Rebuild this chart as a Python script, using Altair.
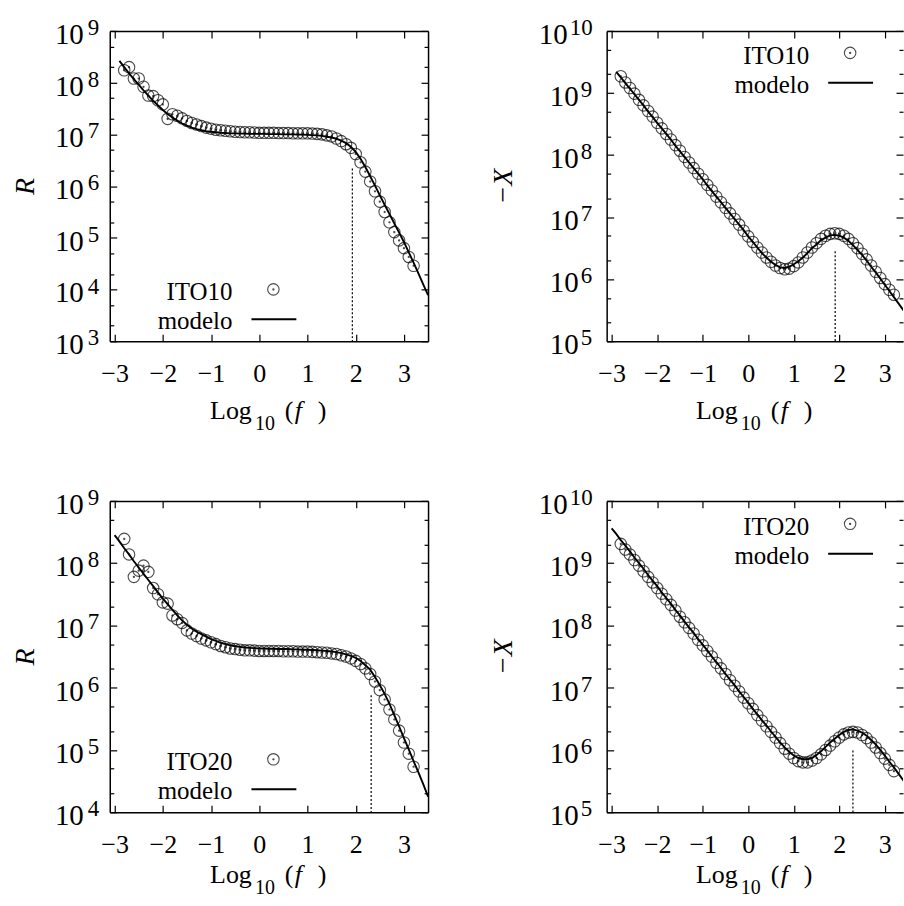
import altair as alt
import pandas as pd

# ---------------------------------------------------------------------------
# Impedance spectra of ITO10 / ITO20: log10 of frequency and log10 of R, -X
# ---------------------------------------------------------------------------
logf_exp = [-2.8, -2.7, -2.6, -2.5, -2.4, -2.3, -2.2, -2.1, -2.0, -1.9,
            -1.8, -1.7, -1.6, -1.5, -1.4, -1.3, -1.2, -1.1, -1.0, -0.9,
            -0.8, -0.7, -0.6, -0.5, -0.4, -0.3, -0.2, -0.1, 0.0, 0.1,
            0.2, 0.3, 0.4, 0.5, 0.6, 0.7, 0.8, 0.9, 1.0, 1.1,
            1.2, 1.3, 1.4, 1.5, 1.6, 1.7, 1.8, 1.9, 2.0, 2.1,
            2.2, 2.3, 2.4, 2.5, 2.6, 2.7, 2.8, 2.9, 3.0, 3.1, 3.2]

logf_fit_ito10 = [-2.9, -2.8, -2.7, -2.6, -2.5, -2.4, -2.3, -2.2, -2.1, -2.0,
                  -1.9, -1.8, -1.7, -1.6, -1.5, -1.4, -1.3, -1.2, -1.1, -1.0,
                  -0.9, -0.8, -0.7, -0.6, -0.5, -0.4, -0.3, -0.2, -0.1, 0.0,
                  0.1, 0.2, 0.3, 0.4, 0.5, 0.6, 0.7, 0.8, 0.9, 1.0,
                  1.1, 1.2, 1.3, 1.4, 1.5, 1.6, 1.7, 1.8, 1.9, 2.0,
                  2.1, 2.2, 2.3, 2.4, 2.5, 2.6, 2.7, 2.8, 2.9, 3.0,
                  3.1, 3.2, 3.3, 3.4, 3.5]

logf_fit_ito20 = [-3.0, -2.9, -2.8, -2.7, -2.6, -2.5, -2.4, -2.3, -2.2, -2.1,
                  -2.0, -1.9, -1.8, -1.7, -1.6, -1.5, -1.4, -1.3, -1.2, -1.1,
                  -1.0, -0.9, -0.8, -0.7, -0.6, -0.5, -0.4, -0.3, -0.2, -0.1,
                  0.0, 0.1, 0.2, 0.3, 0.4, 0.5, 0.6, 0.7, 0.8, 0.9,
                  1.0, 1.1, 1.2, 1.3, 1.4, 1.5, 1.6, 1.7, 1.8, 1.9,
                  2.0, 2.1, 2.2, 2.3, 2.4, 2.5, 2.6, 2.7, 2.8, 2.9,
                  3.0, 3.1, 3.2, 3.3, 3.4, 3.5]

# ITO10 -- resistance R (log10)
r_ito10_exp = [8.24, 8.30, 8.08, 8.08, 7.92, 7.75, 7.74, 7.66, 7.58, 7.30,
               7.39, 7.36, 7.31, 7.26, 7.22, 7.19, 7.16, 7.13, 7.11, 7.09,
               7.08, 7.07, 7.06, 7.05, 7.045, 7.04, 7.04, 7.035, 7.03, 7.03,
               7.03, 7.03, 7.025, 7.025, 7.025, 7.02, 7.02, 7.02, 7.02, 7.015,
               7.01, 7.0, 6.98, 6.96, 6.92, 6.87, 6.81, 6.74, 6.62, 6.46,
               6.28, 6.09, 5.90, 5.70, 5.50, 5.30, 5.11, 4.95, 4.80, 4.63, 4.46]
r_ito10_fit = [8.42, 8.30, 8.18, 8.07, 7.96, 7.85, 7.75, 7.65, 7.56, 7.47,
               7.395, 7.325, 7.265, 7.21, 7.17, 7.13, 7.10, 7.08, 7.06, 7.05,
               7.04, 7.03, 7.025, 7.02, 7.02, 7.015, 7.015, 7.01, 7.01, 7.01,
               7.01, 7.005, 7.005, 7.005, 7.0, 7.0, 7.0, 6.995, 6.995, 6.99,
               6.985, 6.98, 6.97, 6.955, 6.94, 6.915, 6.88, 6.83, 6.76, 6.66,
               6.53, 6.37, 6.19, 6.01, 5.82, 5.64, 5.46, 5.28, 5.10, 4.92,
               4.72, 4.52, 4.31, 4.10, 3.89]

# ITO10 -- reactance -X (log10)
x_ito10_exp = [9.27, 9.17, 9.08, 8.99, 8.89, 8.80, 8.71, 8.62, 8.52, 8.43,
               8.34, 8.25, 8.16, 8.07, 7.97, 7.88, 7.79, 7.70, 7.61, 7.52,
               7.43, 7.33, 7.24, 7.15, 7.06, 6.97, 6.88, 6.78, 6.69, 6.60,
               6.51, 6.43, 6.35, 6.28, 6.22, 6.18, 6.16, 6.17, 6.21, 6.27,
               6.35, 6.43, 6.51, 6.58, 6.65, 6.70, 6.73, 6.74, 6.73, 6.70,
               6.65, 6.58, 6.50, 6.41, 6.32, 6.22, 6.12, 6.02, 5.92, 5.83, 5.75]
x_ito10_fit = [9.34, 9.25, 9.16, 9.07, 8.98, 8.89, 8.80, 8.70, 8.61, 8.52,
               8.43, 8.34, 8.25, 8.15, 8.06, 7.97, 7.88, 7.79, 7.70, 7.61,
               7.51, 7.42, 7.33, 7.24, 7.15, 7.06, 6.97, 6.88, 6.79, 6.69,
               6.60, 6.51, 6.42, 6.35, 6.28, 6.23, 6.19, 6.18, 6.20, 6.24,
               6.29, 6.35, 6.42, 6.50, 6.56, 6.63, 6.67, 6.705, 6.714, 6.70,
               6.67, 6.62, 6.55, 6.47, 6.39, 6.30, 6.20, 6.11, 6.01, 5.91,
               5.81, 5.71, 5.61, 5.51, 5.41]

# ITO20 -- resistance R (log10)
r_ito20_exp = [8.39, 8.14, 7.78, 7.88, 7.96, 7.86, 7.60, 7.50, 7.37, 7.35,
               7.16, 7.10, 7.04, 6.92, 6.87, 6.83, 6.79, 6.76, 6.73, 6.70,
               6.67, 6.65, 6.63, 6.62, 6.61, 6.60, 6.60, 6.595, 6.59, 6.59,
               6.59, 6.59, 6.59, 6.585, 6.585, 6.585, 6.58, 6.58, 6.58, 6.575,
               6.57, 6.565, 6.56, 6.55, 6.54, 6.52, 6.50, 6.47, 6.43, 6.38,
               6.31, 6.22, 6.10, 5.96, 5.81, 5.65, 5.49, 5.31, 5.12, 4.94, 4.73]
r_ito20_fit = [8.45, 8.35, 8.24, 8.14, 8.03, 7.93, 7.83, 7.73, 7.63, 7.53,
               7.43, 7.34, 7.25, 7.16, 7.08, 7.01, 6.95, 6.90, 6.86, 6.82,
               6.78, 6.75, 6.72, 6.70, 6.68, 6.665, 6.655, 6.645, 6.64, 6.635,
               6.63, 6.63, 6.625, 6.625, 6.62, 6.62, 6.62, 6.615, 6.615, 6.61,
               6.61, 6.605, 6.60, 6.595, 6.59, 6.58, 6.57, 6.555, 6.535, 6.51,
               6.48, 6.43, 6.36, 6.29, 6.17, 6.04, 5.90, 5.74, 5.56, 5.38,
               5.19, 5.01, 4.82, 4.64, 4.45, 4.25]

# ITO20 -- reactance -X (log10)
x_ito20_exp = [9.31, 9.22, 9.14, 9.05, 8.96, 8.87, 8.78, 8.69, 8.60, 8.51,
               8.42, 8.33, 8.24, 8.14, 8.05, 7.96, 7.87, 7.77, 7.68, 7.59,
               7.50, 7.40, 7.31, 7.22, 7.12, 7.03, 6.94, 6.84, 6.75, 6.66,
               6.56, 6.47, 6.38, 6.29, 6.20, 6.11, 6.02, 5.94, 5.87, 5.82,
               5.80, 5.80, 5.83, 5.87, 5.93, 6.00, 6.07, 6.14, 6.20, 6.25,
               6.28, 6.29, 6.28, 6.24, 6.19, 6.12, 6.04, 5.95, 5.86, 5.76, 5.66]
x_ito20_fit = [9.56, 9.47, 9.37, 9.28, 9.19, 9.09, 9.00, 8.91, 8.81, 8.72,
               8.63, 8.53, 8.44, 8.35, 8.25, 8.16, 8.06, 7.97, 7.88, 7.78,
               7.69, 7.60, 7.50, 7.41, 7.32, 7.22, 7.13, 7.04, 6.94, 6.85,
               6.76, 6.66, 6.57, 6.48, 6.39, 6.30, 6.21, 6.12, 6.04, 5.97,
               5.91, 5.87, 5.85, 5.85, 5.87, 5.92, 5.98, 6.05, 6.12, 6.18,
               6.24, 6.29, 6.32, 6.33, 6.31, 6.28, 6.23, 6.16, 6.09, 6.00,
               5.91, 5.81, 5.72, 5.62, 5.52, 5.42]

# characteristic frequency markers: log10(f) and log10 of the upper end
peak_logf = [1.93, 1.91, 2.32, 2.30]
peak_top = [6.34, 6.45, 5.88, 5.99]

x_ticks = [-3, -2, -1, 0, 1, 2, 3]

FONT = "Liberation Serif"
INK = "black"
# open circle with a centre dot
CIRCLE_DOT = ("M -1 0 A 1 1 0 1 0 1 0 A 1 1 0 1 0 -1 0 Z "
              "M -0.1 0 A 0.1 0.1 0 1 0 0.1 0 A 0.1 0.1 0 1 0 -0.1 0 Z")
MAJ, MIN = 7, 4


def ax(orient, **kw):
    base = dict(orient=orient, grid=False, labels=False, domain=False,
                ticks=False, tickSize=0, title=None)
    base.update(kw)
    return alt.Axis(**base)


def inward(orient, values, size):
    return ax(orient, values=values, ticks=True, tickSize=size,
              tickColor=INK, tickWidth=1.2, offset=-size)


def text_at(s, x, y, size, style="normal", align="left"):
    return alt.Chart(pd.DataFrame({"t": [s]})).mark_text(
        font=FONT, fontSize=size, fontStyle=style, align=align,
        baseline="alphabetic", color=INK
    ).encode(text="t:N", x=alt.value(x), y=alt.value(y))


def panel(name, exp_vals, fit_f, fit_vals, lo, hi, xdom, width, height,
          pk_f, pk_top, ytitle, ytitle_x, lab1, lab2, leg_right, leg_base,
          xtitle_gap, right_border):
    exp_df = pd.DataFrame({"lf": logf_exp, "v": [10 ** v for v in exp_vals]})
    fit_df = pd.DataFrame({"lf": fit_f, "v": [10 ** v for v in fit_vals]})
    rule_df = pd.DataFrame({"lf": [pk_f], "top": [10 ** pk_top],
                            "bottom": [10.0 ** lo]})
    powers = list(range(lo, hi + 1))
    lab_df = pd.DataFrame({"v": [10.0 ** k for k in powers],
                           "e": [str(k) for k in powers]})

    xs = alt.Scale(domain=xdom, nice=False, zero=False)
    ys = alt.Scale(type="log", domain=[10.0 ** lo, 10.0 ** hi], nice=False)
    majors = [10.0 ** k for k in powers]
    minors = [m * 10.0 ** k for k in range(lo, hi) for m in (2, 5)]

    x_main = ax("bottom", values=x_ticks, labels=True, format="d",
                labelFont=FONT, labelFontSize=26, labelColor=INK,
                labelPadding=19, labelOverlap=False,
                domain=True, domainColor=INK, domainWidth=1.5)
    y_main = ax("left", domain=True, domainColor=INK, domainWidth=1.5,
                title=ytitle, titleFont=FONT, titleFontSize=28,
                titleFontStyle="italic", titleFontWeight="normal",
                titleColor=INK, titleAngle=270, titleX=ytitle_x,
                titleY=height / 2, titleBaseline="middle")

    X = lambda a, f="lf": alt.X(f"{f}:Q", scale=xs, axis=a)
    Y = lambda a, f="v": alt.Y(f"{f}:Q", scale=ys, axis=a)

    pts = alt.Chart(exp_df).mark_point(
        shape=CIRCLE_DOT, size=132, filled=False, stroke=INK,
        strokeWidth=1.1, clip=True
    ).encode(x=X(inward("bottom", x_ticks, MAJ)), y=Y(inward("left", majors, MAJ)))

    fit = alt.Chart(fit_df).mark_line(
        color=INK, strokeWidth=1.9, clip=True
    ).encode(x=X(x_main), y=Y(y_main))

    rule = alt.Chart(rule_df).mark_rule(
        color=INK, strokeWidth=1.2, strokeDash=[2, 2]
    ).encode(x=X(ax("top", domain=True, domainColor=INK, domainWidth=1.5)),
             y=Y(inward("left", minors, MIN), "top"), y2="bottom:Q")

    ghost1 = alt.Chart(exp_df).mark_point(opacity=0).encode(
        x=X(inward("top", x_ticks, MAJ)), y=Y(inward("right", majors, MAJ)))
    ghost2 = alt.Chart(exp_df).mark_point(opacity=0).encode(
        x=X(None), y=Y(inward("right", minors, MIN)))
    layers = [pts, fit, rule, ghost1, ghost2]
    if right_border:
        layers.append(alt.Chart(exp_df).mark_point(opacity=0).encode(
            x=X(None), y=Y(ax("right", domain=True, domainColor=INK,
                              domainWidth=1.5))))

    # power-of-ten tick labels: "10" with a raised exponent
    for digits, (base_x, exp_x) in ((1, lab1), (2, lab2)):
        sub = lab_df[lab_df["e"].str.len() == digits]
        if sub.empty:
            continue
        layers.append(alt.Chart(sub).mark_text(
            font=FONT, fontSize=29, align="right", baseline="alphabetic",
            dy=13, color=INK
        ).encode(y=Y(None), x=alt.value(base_x), text=alt.value("10")))
        layers.append(alt.Chart(sub).mark_text(
            font=FONT, fontSize=23, align="left", baseline="alphabetic",
            dy=4, color=INK
        ).encode(y=Y(None), x=alt.value(exp_x), text="e:N"))

    # x-axis title: Log_10 (f)
    c = width / 2
    yb = height + xtitle_gap
    layers += [
        text_at("Log", c - 59, yb, 26),
        text_at("10", c - 14, yb + 11, 20),
        text_at("(", c + 16, yb, 26),
        text_at("f", c + 26, yb, 26, "italic"),
        text_at(")", c + 49, yb, 26),
    ]

    # key: label on the left, sample on the right
    one = pd.DataFrame({"t": [0]})
    layers += [
        text_at(name, leg_right, leg_base, 25, align="right"),
        text_at("modelo", leg_right, leg_base + 29, 25, align="right"),
        alt.Chart(one).mark_point(shape=CIRCLE_DOT, size=132, filled=False,
                                  stroke=INK, strokeWidth=1.1).encode(
            x=alt.value(leg_right + 41), y=alt.value(leg_base - 11)),
        alt.Chart(one).mark_rule(color=INK, strokeWidth=1.9).encode(
            x=alt.value(leg_right + 19), x2=alt.value(leg_right + 64),
            y=alt.value(leg_base + 19)),
    ]
    return alt.layer(*layers).resolve_axis(
        x="independent", y="independent"
    ).properties(width=width, height=height)


tl = panel("ITO10", r_ito10_exp, logf_fit_ito10, r_ito10_fit, 3, 9,
           [-3.1, 3.5], 319, 311, peak_logf[0], peak_top[0], "R", -84,
           (-26, -22), (-26, -22), 123, 270, 78, True)
tr = panel("ITO10", x_ito10_exp, logf_fit_ito10, x_ito10_fit, 5, 10,
           [-3.11, 3.40], 297, 311, peak_logf[1], peak_top[1], "−X", -103,
           (-28, -26), (-39, -37), 203, 33, 78, False)
bl = panel("ITO20", r_ito20_exp, logf_fit_ito20, r_ito20_fit, 4, 9,
           [-3.1, 3.5], 319, 312, peak_logf[2], peak_top[2], "R", -84,
           (-26, -22), (-26, -22), 123, 270, 71, True)
br = panel("ITO20", x_ito20_exp, logf_fit_ito20, x_ito20_fit, 5, 10,
           [-3.11, 3.40], 297, 312, peak_logf[3], peak_top[3], "−X", -103,
           (-28, -26), (-39, -37), 203, 34, 71, False)

chart = alt.concat(
    tl, tr, bl, br, columns=2, align="each", bounds="flush",
    spacing={"row": 160, "column": 179},
).properties(
    padding={"left": 12, "top": 16, "right": 0, "bottom": 0},
    background="white",
).configure_view(strokeWidth=0)

chart.save("out.html", embed_options={"renderer": "svg", "actions": False})
